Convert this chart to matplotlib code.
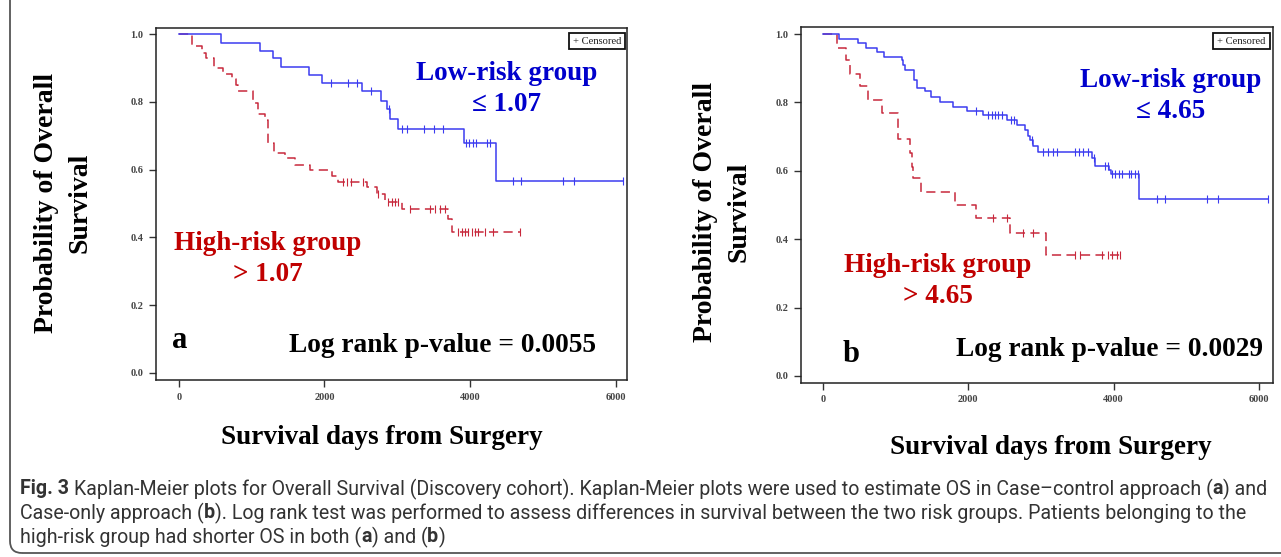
import numpy as np
import matplotlib
matplotlib.use('Agg')
import matplotlib.pyplot as plt
from matplotlib.patches import FancyBboxPatch, Rectangle
from matplotlib.transforms import IdentityTransform
from matplotlib import font_manager

# ---------------- data ----------------
# Panel a : Case-control approach
a_low_times = [0, 573, 1113, 1290, 1400, 1787, 1970, 2520, 2777, 2855, 2900, 3010, 3922, 4353]
a_low_surv = [1.0, 0.973, 0.952, 0.929, 0.903, 0.879, 0.857, 0.832, 0.804, 0.779, 0.749, 0.721, 0.680, 0.565]
a_low_end = 6108
a_low_cens = [2089, 2327, 2442, 2639, 2891, 3061, 3130, 3372, 3509, 3625, 3945, 3991, 4038,
              4083, 4230, 4275, 4596, 4697, 5274, 5430, 6108]

a_high_times = [0, 174, 312, 371, 481, 609, 724, 784, 815, 1022, 1090, 1182, 1228, 1306, 1457,
                1595, 1801, 2099, 2181, 2580, 2718, 2832, 3061, 3693, 3748]
a_high_surv = [1.0, 0.966, 0.946, 0.929, 0.900, 0.883, 0.867, 0.850, 0.832, 0.798, 0.764, 0.747,
               0.678, 0.650, 0.634, 0.614, 0.599, 0.582, 0.564, 0.548, 0.528, 0.505, 0.483, 0.453, 0.417]
a_high_end = 4687
a_high_cens = [2260, 2310, 2360, 2534, 2731, 2877, 2924, 2969, 3014, 3175, 3450, 3519, 3588, 3656,
               3839, 3886, 3931, 3977, 4023, 4069, 4115, 4206, 4320, 4687]

# Panel b : Case-only approach
b_low_times = [0, 220, 486, 587, 743, 835, 1092, 1106, 1129, 1248, 1289, 1404, 1487, 1610, 1794,
               1978, 2207, 2528, 2666, 2780, 2817, 2849, 2895, 2964, 3707, 3749, 3933, 3960, 4355]
b_low_surv = [1.0, 0.986, 0.974, 0.959, 0.947, 0.933, 0.923, 0.908, 0.894, 0.866, 0.842, 0.832,
              0.815, 0.801, 0.787, 0.776, 0.762, 0.750, 0.733, 0.718, 0.702, 0.690, 0.673, 0.656,
              0.637, 0.615, 0.602, 0.590, 0.517]
b_low_end = 6121
b_low_cens = [2102, 2276, 2322, 2368, 2413, 2459, 2588, 2634, 2870, 3028, 3097, 3166, 3221, 3469,
              3524, 3579, 3648, 3730, 3882, 3928, 3974, 4019, 4079, 4112, 4216, 4240, 4295, 4341,
              4603, 4707, 5281, 5433, 6121]

b_high_times = [0, 188, 312, 372, 509, 624, 808, 1028, 1198, 1221, 1240, 1349, 1817, 2108, 2580, 3070]
b_high_surv = [1.0, 0.959, 0.923, 0.883, 0.847, 0.808, 0.769, 0.692, 0.651, 0.612, 0.578, 0.539,
               0.500, 0.462, 0.417, 0.354]
b_high_end = 4088
b_high_cens = [2333, 2528, 2757, 2895, 3469, 3538, 3836, 3927, 3974, 4042, 4088]

x_ticks = [0, 2000, 4000, 6000]
y_ticks = [0.0, 0.2, 0.4, 0.6, 0.8, 1.0]
x_label = "Survival days from Surgery"
y_label = "Probability of Overall\nSurvival"
low_labels = ["Low-risk group\n\u2264 1.07", "Low-risk group\n\u2264 4.65"]
high_labels = ["High-risk group\n> 1.07", "High-risk group\n> 4.65"]
pvals = ["Log rank p-value = 0.0055", "Log rank p-value = 0.0029"]
panel_letters = ["a", "b"]

# ---------------- styling ----------------
W, H = 1281, 557
SERIF = 'Liberation Serif'
names = {f.name for f in font_manager.fontManager.ttflist}
CAP_FONT = 'Liberation Sans Narrow' if 'Liberation Sans Narrow' in names else 'Roboto'
BLUE_LINE = '#3c3cf0'
RED_LINE = '#c8283c'
BLUE_TXT = '#0000cc'
RED_TXT = '#c00000'

fig = plt.figure(figsize=(W / 100, H / 100), dpi=100)
fig.patch.set_facecolor('white')


def px_axes(l, t, r, b):
    return fig.add_axes([l / W, 1 - b / H, (r - l) / W, (b - t) / H])


def ftext(x, y, s, **kw):
    return fig.text(x / W, 1 - y / H, s, **kw)


def draw_km(ax, times, surv, end, cens, color, dashed):
    xs = list(times) + [end]
    ys = list(surv) + [surv[-1]]
    ls = (0, (6, 3.5)) if dashed else '-'
    ax.plot(xs, ys, drawstyle='steps-post', color=color, lw=1.1, ls=ls)
    idx = np.searchsorted(times, cens, side='right') - 1
    cy = np.asarray(surv)[idx]
    ax.plot(cens, cy, ls='none', marker='|', ms=5.5, mew=0.8, color=color)


panels = [
    dict(rect=(156, 28, 627, 380), xlim=(-316, 6158), ylim=(-0.0216, 1.0186),
         low=(a_low_times, a_low_surv, a_low_end, a_low_cens),
         high=(a_high_times, a_high_surv, a_high_end, a_high_cens),
         low_pos=(507, 89), high_pos=(268, 259), letter_pos=(180, 340), p_pos=(596, 345),
         xlab_pos=(382, 437), ylab_pos=(63, 203), legend=(569, 33, 625, 49)),
    dict(rect=(801, 27, 1273, 383), xlim=(-303, 6194), ylim=(-0.0205, 1.0205),
         low=(b_low_times, b_low_surv, b_low_end, b_low_cens),
         high=(b_high_times, b_high_surv, b_high_end, b_high_cens),
         low_pos=(1171, 96), high_pos=(938, 281), letter_pos=(851, 355), p_pos=(1263, 350),
         xlab_pos=(1051, 447), ylab_pos=(722, 212), legend=(1213, 33, 1270, 49)),
]

for i, p in enumerate(panels):
    ax = px_axes(*p['rect'])
    ax.set_xlim(*p['xlim'])
    ax.set_ylim(*p['ylim'])
    ax.set_xticks(x_ticks)
    ax.set_yticks(y_ticks)
    ax.set_xticklabels([str(v) for v in x_ticks])
    ax.set_yticklabels(['%.1f' % v for v in y_ticks])
    for sp in ax.spines.values():
        sp.set_linewidth(1.1)
        sp.set_color('#222222')
    ax.tick_params(direction='out', length=5, width=1.0, color='#333333',
                   labelsize=7.5, labelcolor='#444444', pad=4)
    for lab in ax.get_xticklabels() + ax.get_yticklabels():
        lab.set_fontfamily(SERIF)
        lab.set_fontweight('bold')
    draw_km(ax, *p['high'], RED_LINE, True)
    draw_km(ax, *p['low'], BLUE_LINE, False)

    # "+ Censored" legend box
    l, t, r, b = p['legend']
    fig.add_artist(Rectangle((l, H - b), r - l, b - t, transform=IdentityTransform(),
                             fill=False, lw=1.3, ec='#111111'))
    ftext((l + r) / 2, (t + b) / 2 + 0.5, "+ Censored", ha='center', va='center',
          fontsize=7.6, family=SERIF, color='#222222')

    ftext(*p['low_pos'], low_labels[i], ha='center', va='center', fontsize=19.5,
          family=SERIF, weight='bold', color=BLUE_TXT, linespacing=1.3)
    ftext(*p['high_pos'], high_labels[i], ha='center', va='center', fontsize=19.5,
          family=SERIF, weight='bold', color=RED_TXT, linespacing=1.3)
    ftext(*p['letter_pos'], panel_letters[i], ha='center', va='center', fontsize=22,
          family=SERIF, weight='bold', color='black')
    ftext(*p['p_pos'], pvals[i], ha='right', va='center', fontsize=19.7,
          family=SERIF, weight='bold', color='black')
    ftext(*p['xlab_pos'], x_label, ha='center', va='center', fontsize=19.5,
          family=SERIF, weight='bold', color='black')
    ftext(*p['ylab_pos'], y_label, ha='center', va='center', fontsize=20,
          family=SERIF, weight='bold', color='black', rotation=90, linespacing=1.45)

# outer rounded frame
fig.add_artist(FancyBboxPatch((10, 4), 1300, 570, boxstyle='round,pad=0,rounding_size=12',
                              transform=IdentityTransform(), fill=False, lw=1.3, ec='#555555'))

# caption with mixed bold / regular runs
caption_lines = [
    [("Fig. 3", 'bold'), (" Kaplan-Meier plots for Overall Survival (Discovery cohort). Kaplan-Meier plots were used to estimate OS in Case\u2013control approach (", 'normal'),
     ("a", 'bold'), (") and", 'normal')],
    [("Case-only approach (", 'normal'), ("b", 'bold'),
     ("). Log rank test was performed to assess differences in survival between the two risk groups. Patients belonging to the", 'normal')],
    [("high-risk group had shorter OS in both (", 'normal'), ("a", 'bold'), (") and (", 'normal'),
     ("b", 'bold'), (")", 'normal')],
]
caption_y = [489, 513, 537]
renderer = fig.canvas.get_renderer()


def text_w(s, size, weight):
    t = fig.text(0, 0, s, fontsize=size, family=CAP_FONT, weight=weight)
    w = t.get_window_extent(renderer).width
    t.remove()
    return w


def run_width(parts, size):
    total = 0
    for s, wgt in parts:
        core = s.strip(' ')
        lead = len(s) - len(s.lstrip(' '))
        trail = len(s) - len(s.rstrip(' '))
        sp = text_w("x x", size, wgt) - text_w("xx", size, wgt)
        total += text_w(core, size, wgt) + sp * (lead + trail)
    return total


# choose caption size so that first line spans the same width as the reference
cap_size = 11.0
target = 1262 - 20
w0 = run_width(caption_lines[0], cap_size)
cap_size = cap_size * target / w0

for parts, yy in zip(caption_lines, caption_y):
    x = 20.0
    for s, wgt in parts:
        lead = len(s) - len(s.lstrip(' '))
        trail = len(s) - len(s.rstrip(' '))
        sp = text_w("x x", cap_size, wgt) - text_w("xx", cap_size, wgt)
        x += sp * lead
        core = s.strip(' ')
        t = ftext(x, yy, core, ha='left', va='center', fontsize=cap_size, family=CAP_FONT,
                  weight=wgt, color='#333333')
        x += t.get_window_extent(renderer).width + sp * trail

fig.savefig('out.png', dpi=100, facecolor='white')
